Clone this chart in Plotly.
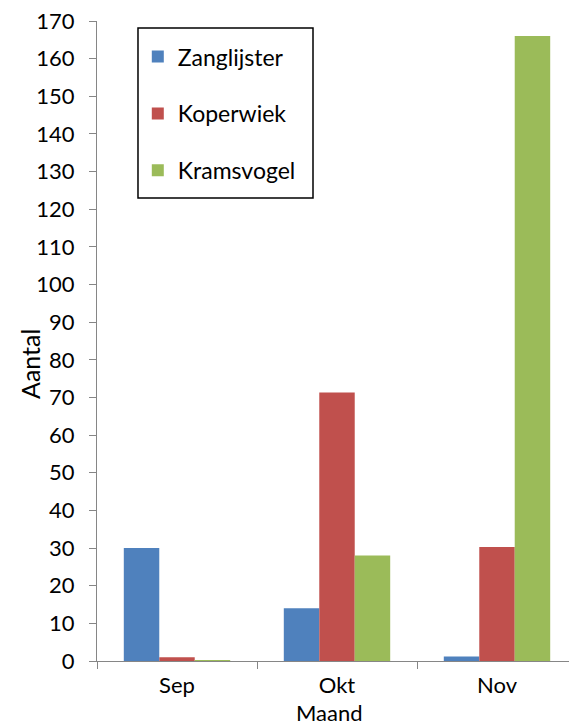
import plotly.graph_objects as go

months = ["Sep", "Okt", "Nov"]
zanglijster = [30, 14, 1.2]
koperwiek = [1, 71.3, 30.3]
kramsvogel = [0.2, 28, 166]

series_names = ["Zanglijster", "Koperwiek", "Kramsvogel"]
series_colors = ["#4F81BD", "#C0504D", "#9BBB59"]

FONT = "Lato"
fig = go.Figure()
for i, (name, vals, col) in enumerate(zip(series_names, [zanglijster, koperwiek, kramsvogel], series_colors)):
    fig.add_trace(go.Bar(x=months, y=vals, name=name, marker=dict(color=col, line=dict(width=0)),
                         legendgroup=f"g{i}"))

fig.update_layout(
    width=569, height=719,
    margin=dict(l=89, r=0, t=13, b=66),
    paper_bgcolor="white", plot_bgcolor="white",
    barmode="group", bargap=0.335, bargroupgap=0,
    font=dict(family=FONT, size=22, color="black"),
    showlegend=True,
    legend=dict(x=0.085, y=0.978, xanchor="left", yanchor="top",
                borderwidth=0, bgcolor="rgba(0,0,0,0)",
                tracegroupgap=24, traceorder="grouped",
                font=dict(family=FONT, size=23, color="black")),
    shapes=[dict(type="rect", xref="paper", yref="paper",
                 x0=0.0854, x1=0.45, y0=0.7234, y1=0.989,
                 line=dict(color="black", width=1.5), fillcolor="white", layer="below")],
    xaxis=dict(showline=True, linecolor="#868686", linewidth=1, ticks="outside",
               tickson="boundaries", ticklen=7, tickcolor="#868686",
               showgrid=False, zeroline=False, tickfont=dict(size=22), ticklabelstandoff=5),
    yaxis=dict(range=[0, 170], dtick=10, tick0=0, showline=True, linecolor="#868686",
               linewidth=1, ticks="outside", ticklen=7, tickcolor="#868686",
               showgrid=False, zeroline=False, tickfont=dict(size=22), ticklabelstandoff=10,
               ticklabeloverflow="allow"),
    annotations=[
        dict(text="Aantal", xref="paper", yref="paper", x=-0.1396, y=0.464,
             xanchor="center", yanchor="middle", textangle=-90, showarrow=False,
             font=dict(family=FONT, size=25, color="black")),
        dict(text="Maand", xref="paper", yref="paper", x=0.485, y=-0.0805,
             xanchor="center", yanchor="middle", showarrow=False,
             font=dict(family=FONT, size=22, color="black")),
    ],
)

fig.write_html("out.html")
